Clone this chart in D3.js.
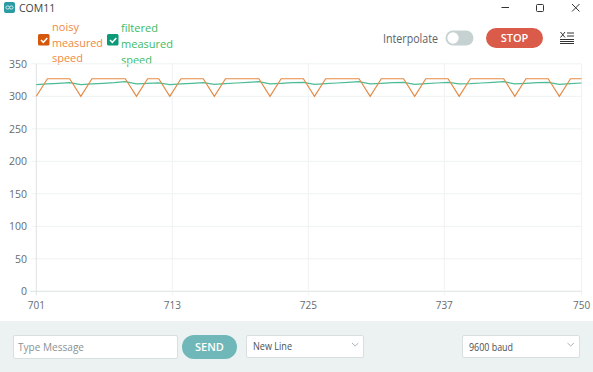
<!DOCTYPE html>
<html><head><meta charset="utf-8">
<script src="https://cdn.jsdelivr.net/npm/d3@7"></script>
<style>html,body{margin:0;padding:0;background:#fff;overflow:hidden}svg{display:block;font-family:"Open Sans",sans-serif}</style>
</head><body><svg id="c" width="593" height="372"></svg>
<script>
const firstSample = 701;
const noisySpeed = [300,327,327,327,300,327,327,327,327,300,327,327,300,327,327,327,300,327,327,327,327,300,327,327,327,300,327,327,327,327,300,327,327,327,300,327,327,327,300,327,327,327,327,300,327,327,327,300,327,327];
const filteredSpeed = [318,319,320,321,318,319,320,321,322.5,319,320,320.5,318,319,320,321,318.5,319.5,320.5,321.5,322.5,319,320,321,321.5,318.5,319.5,320.5,321.5,322.5,319,320,321,321.5,318.5,319.5,320.5,321.5,319,319.5,320.5,321.5,322.5,319,320,321,321.5,318.5,319.5,320.5];
const xTickPositions = [701,713.22,725.44,737.66,750];
const xTickLabels = ["701","713","725","737","750"];
const yTicks = [0,50,100,150,200,250,300,350];
const noisyLabel = ["noisy","measured","speed"];
const filteredLabel = ["filtered","measured","speed"];

const svg = d3.select("#c");
const x = d3.scaleLinear().domain([701,750]).range([36.3,581.6]);
const y = d3.scaleLinear().domain([0,350]).range([291.3,63.8]);
const grid = "#eef2f2";

function fit(sel, w){ return sel.attr("textLength",w).attr("lengthAdjust","spacingAndGlyphs"); }

// title bar
const logo = svg.append("g");
logo.append("rect").attr("x",4).attr("y",2).attr("width",11).attr("height",11).attr("rx",2).attr("fill","#2b9ba3");
logo.append("ellipse").attr("cx",7.7).attr("cy",7.5).attr("rx",1.8).attr("ry",1.6).attr("fill","none").attr("stroke","#cfeaec").attr("stroke-width",1);
logo.append("ellipse").attr("cx",11.3).attr("cy",7.5).attr("rx",1.8).attr("ry",1.6).attr("fill","none").attr("stroke","#cfeaec").attr("stroke-width",1);
svg.append("text").attr("x",19).attr("y",11.5).attr("font-size",10.5).attr("fill","#3a3f42").text("COM11");
svg.append("line").attr("x1",501.5).attr("x2",509).attr("y1",7.5).attr("y2",7.5).attr("stroke","#333");
svg.append("rect").attr("x",536.5).attr("y",4.5).attr("width",7).attr("height",7).attr("rx",1).attr("fill","none").attr("stroke","#333");
svg.append("path").attr("d","M572 4L579.5 11.5M579.5 4L572 11.5").attr("stroke","#333").attr("fill","none");

// legend
function legend(cx, cy, w, color, textColor, lx, ys, lines, widths){
  svg.append("rect").attr("x",cx).attr("y",cy).attr("width",w).attr("height",w).attr("rx",1.5).attr("fill",color);
  svg.append("path").attr("d",`M${cx+3} ${cy+6}l2.3 2.3l4-4.3`).attr("fill","none").attr("stroke","#fff").attr("stroke-width",1.5);
  lines.forEach((t,i)=>fit(svg.append("text").attr("x",lx).attr("y",ys[i]).attr("font-size",11.5).attr("fill",textColor).text(t),widths[i]));
}
legend(38,34,11.5,"#d4570c","#f0893e",52,[31,46.7,62.4],noisyLabel,[27,51,31]);
legend(107,34,11.5,"#0b9a77","#3dbb63",121,[32,48,64],filteredLabel,[37,52,31]);

// controls
fit(svg.append("text").attr("x",383).attr("y",43).attr("font-size",12).attr("fill","#5b6367").text("Interpolate"),55);
svg.append("rect").attr("x",445.5).attr("y",30.5).attr("width",28).attr("height",15).attr("rx",7.5).attr("fill","#c6d1d1");
svg.append("circle").attr("cx",453).attr("cy",38).attr("r",5.7).attr("fill","#fff");
svg.append("rect").attr("x",486).attr("y",28).attr("width",57).attr("height",20).attr("rx",10).attr("fill","#da5b4a");
svg.append("text").attr("x",514.5).attr("y",42.3).attr("text-anchor","middle").attr("font-size",11).attr("font-weight",600).attr("fill","#fff").text("STOP");
svg.append("path").attr("d","M560 39.5H574M560 41.5H574M560 43.5H574M567 33H574M567 36H574M560.5 32L565 37.5M565 32L560.5 37.5").attr("fill","none").attr("stroke","#333").attr("stroke-width",1);

// grid
svg.append("g").selectAll("line").data(yTicks).join("line")
  .attr("x1",d=>d===0?30:x(701)-5).attr("x2",x(750))
  .attr("y1",d=>y(d)).attr("y2",d=>y(d))
  .attr("stroke",d=>d===0?"#dde3e3":grid);
svg.append("g").selectAll("line").data(xTickPositions).join("line")
  .attr("x1",d=>x(d)).attr("x2",d=>x(d))
  .attr("y1",y(350)).attr("y2",y(0)+4)
  .attr("stroke",(d,i)=>i===0?"#dde3e3":grid);

// axis labels
svg.append("g").selectAll("text").data(yTicks).join("text")
  .attr("x",27).attr("y",d=>y(d)+4).attr("text-anchor","end")
  .attr("font-size",10.5).attr("fill","#666c6e").text(d=>d);
svg.append("g").selectAll("text").data(xTickPositions).join("text")
  .attr("x",d=>x(d)).attr("y",309).attr("text-anchor","middle")
  .attr("font-size",10).attr("fill","#666c6e").text((d,i)=>xTickLabels[i]);

// series
const line = d3.line().x((d,i)=>x(firstSample+i)).y(d=>y(d));
svg.append("path").datum(filteredSpeed).attr("d",line).attr("fill","none").attr("stroke","#4dbb94").attr("stroke-width",1.2);
svg.append("path").datum(noisySpeed).attr("d",line).attr("fill","none").attr("stroke","#e58a45").attr("stroke-width",1.2);

// footer
svg.append("rect").attr("x",0).attr("y",321).attr("width",593).attr("height",51).attr("fill","#ecf1f1");
const box=(x0,w,h)=>svg.append("rect").attr("x",x0+.5).attr("y",335.5).attr("width",w).attr("height",h).attr("rx",1.5).attr("fill","#fff").attr("stroke","#d9dfdf");
box(13,164,23);
fit(svg.append("text").attr("x",18).attr("y",351).attr("font-size",10.5).attr("fill","#8a9295").text("Type Message"),66);
svg.append("rect").attr("x",182).attr("y",335).attr("width",55).attr("height",24).attr("rx",12).attr("fill","#6fb7b8");
svg.append("text").attr("x",209.5).attr("y",351).attr("text-anchor","middle").attr("font-size",11).attr("font-weight",600).attr("fill","#fff").text("SEND");
box(246,117,22);
fit(svg.append("text").attr("x",253).attr("y",350).attr("font-size",10.3).attr("fill","#4a5053").text("New Line"),39);
box(462,117,22);
fit(svg.append("text").attr("x",469).attr("y",351).attr("font-size",10.3).attr("fill","#4a5053").text("9600 baud"),44);
[[352,343],[567.5,343]].forEach(([a,b])=>svg.append("path").attr("d",`M${a} ${b}l3.2 3l3.2-3`).attr("fill","none").attr("stroke","#aab2b3"));
</script></body></html>
